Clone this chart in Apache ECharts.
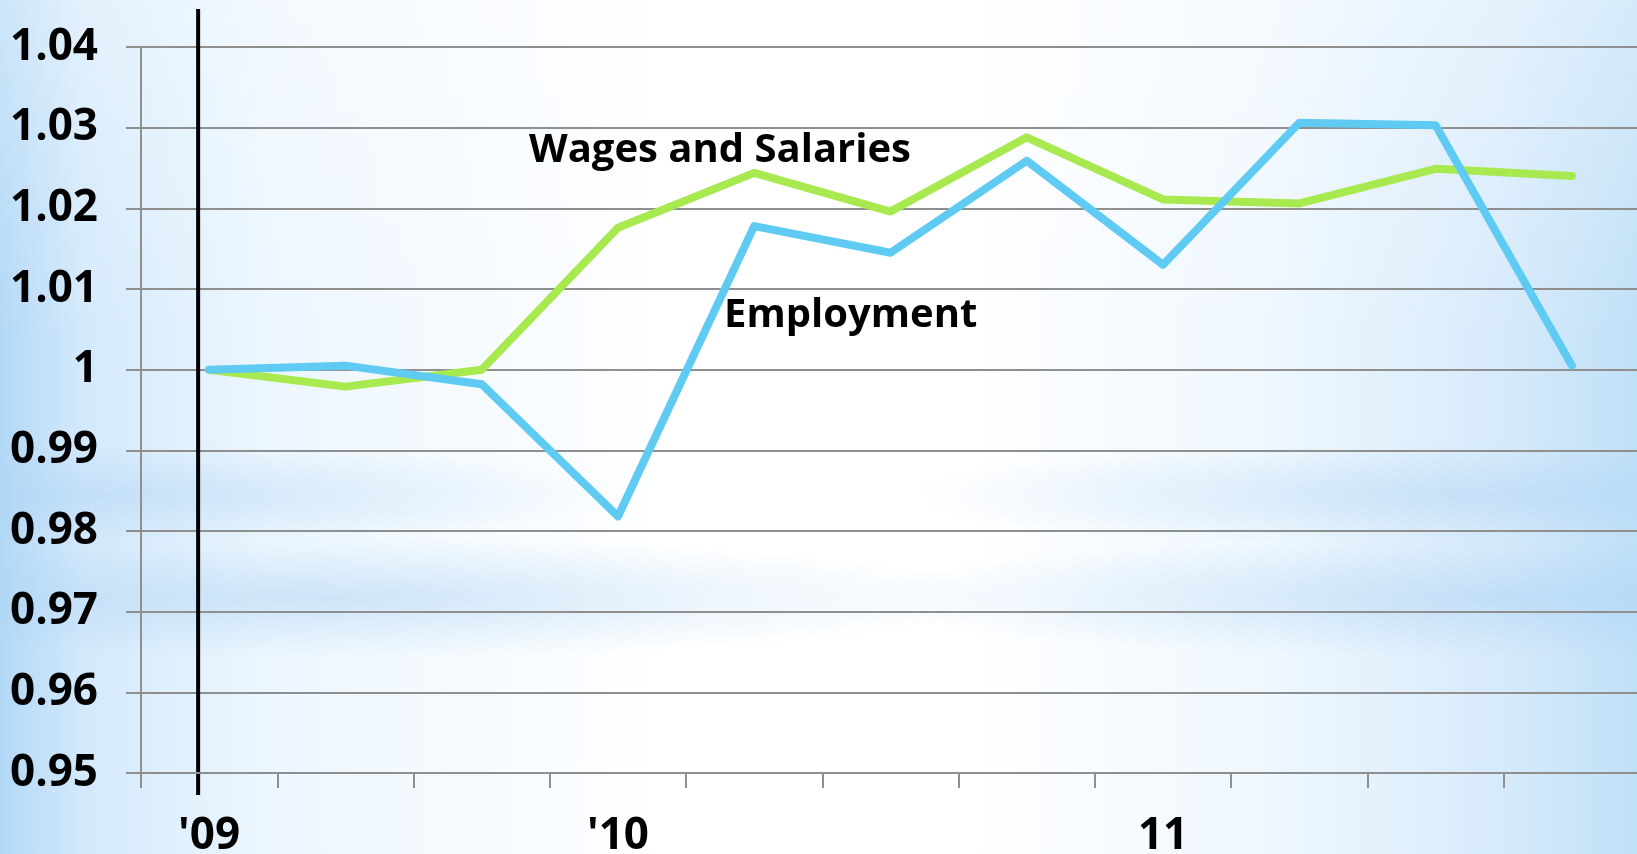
<!DOCTYPE html>
<html>
<head>
  <meta charset="utf-8">
  <title>Wages and Salaries vs Employment</title>
  <script src="https://cdn.jsdelivr.net/npm/echarts@6/dist/echarts.min.js"></script>
  <style>
    html, body {
      margin: 0;
      padding: 0;
      width: 1637px;
      height: 854px;
      overflow: hidden;
    }
    body {
      background:
        radial-gradient(ellipse 30% 6% at 8% 58%, rgba(172, 210, 243, 0.45), rgba(172, 210, 243, 0) 100%),
        radial-gradient(ellipse 42% 7% at 20% 70%, rgba(172, 210, 243, 0.5), rgba(172, 210, 243, 0) 100%),
        radial-gradient(ellipse 35% 6% at 90% 58%, rgba(172, 210, 243, 0.45), rgba(172, 210, 243, 0) 100%),
        radial-gradient(ellipse 40% 7% at 92% 70%, rgba(172, 210, 243, 0.5), rgba(172, 210, 243, 0) 100%),
        linear-gradient(to bottom, rgba(255, 255, 255, 0.35) 0%, rgba(255, 255, 255, 0) 40%),
        linear-gradient(to right, #b2d8f6 0%, #d3e9fb 5%, #ecf6fe 16%, #ffffff 42%, #ffffff 58%, #eef7fe 78%, #d6eafb 92%, #c0e0f7 100%);
    }
    #chart {
      width: 1637px;
      height: 854px;
    }
  </style>
</head>
<body>
<div id="chart"></div>
<script>
  // quarters, Q1 2009 .. Q3 2011 (only a few are labelled on the slide)
  const categories = ["'09", '', '', "'10", '', '', '', '11', '', '', ''];
  const wages = [1.000, 0.9979, 1.000, 1.0176, 1.0244, 1.0196, 1.0288, 1.0211, 1.0206, 1.0249, 1.0240];
  const employment = [1.000, 1.0005, 0.9982, 0.9818, 1.0178, 1.0145, 1.0259, 1.0130, 1.0306, 1.0303, 1.0005];
  const yMin = 0.95;
  const yMax = 1.04;
  const yStep = 0.01;

  const font = '"Open Sans", "Noto Sans", sans-serif';
  const gridColor = '#8f8f8f';

  const chart = echarts.init(document.getElementById('chart'));
  const option = {
    backgroundColor: 'transparent',
    animation: false,
    grid: {
      left: 141,
      right: -3,
      top: 47,
      bottom: 81,
      outerBoundsMode: 'none'
    },
    xAxis: {
      type: 'category',
      data: categories,
      boundaryGap: true,
      axisLine: {lineStyle: {color: gridColor, width: 2}},
      axisTick: {show: true, length: 15, interval: 0, lineStyle: {color: gridColor, width: 2}},
      axisLabel: {
        interval: 0,
        margin: 41,
        color: '#000',
        fontFamily: font,
        fontWeight: 'bold',
        fontSize: 44
      },
      splitLine: {show: false}
    },
    yAxis: {
      type: 'value',
      min: yMin,
      max: yMax,
      interval: yStep,
      axisLine: {show: true, lineStyle: {color: gridColor, width: 2}},
      axisTick: {show: true, length: 15, lineStyle: {color: gridColor, width: 2}},
      axisLabel: {
        margin: 43,
        color: '#000',
        fontFamily: font,
        fontWeight: 'bold',
        fontSize: 44,
        formatter: function (v) {
          return String(+v.toFixed(2));
        }
      },
      splitLine: {lineStyle: {color: gridColor, width: 2}}
    },
    series: [
      {
        name: 'Wages and Salaries',
        type: 'line',
        data: wages,
        symbol: 'none',
        lineStyle: {color: '#a7e94f', width: 8, join: 'round', cap: 'round'}
      },
      {
        name: 'Employment',
        type: 'line',
        data: employment,
        symbol: 'none',
        lineStyle: {color: '#5fcbf2', width: 8, join: 'round', cap: 'round'}
      }
    ]
  };
  chart.setOption(option);

  // black marker line just left of the first quarter, and the two series captions
  const x0 = chart.convertToPixel({xAxisIndex: 0}, 0) - 11;
  chart.setOption({
    graphic: [
      {
        type: 'line',
        shape: {x1: x0, y1: 9, x2: x0, y2: 795},
        style: {stroke: '#000', lineWidth: 4}
      },
      {
        type: 'text',
        left: 529,
        top: 131,
        style: {text: 'Wages and Salaries', fill: '#000', font: 'bold 40px ' + font}
      },
      {
        type: 'text',
        left: 724,
        top: 296,
        style: {text: 'Employment', fill: '#000', font: 'bold 40px ' + font}
      }
    ]
  });
</script>
</body>
</html>
